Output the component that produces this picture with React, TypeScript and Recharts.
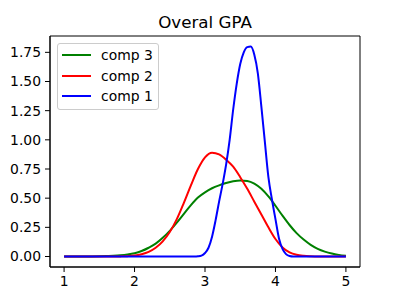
import { LineChart, Line, XAxis, YAxis, ReferenceArea, Customized } from 'recharts';

// x grid for the two broad components
const gpaX = [
  1.0, 1.1, 1.2, 1.3, 1.4, 1.5, 1.6, 1.7, 1.8, 1.9,
  2.0, 2.1, 2.2, 2.3, 2.4, 2.5, 2.6, 2.7, 2.8, 2.9,
  3.0, 3.1, 3.2, 3.3, 3.4, 3.5, 3.6, 3.7, 3.8, 3.9,
  4.0, 4.1, 4.2, 4.3, 4.4, 4.5, 4.6, 4.7, 4.8, 4.9, 5.0,
];

const comp3 = [
  0, 0, 0, 0.001, 0.001, 0.002, 0.004, 0.006, 0.01, 0.017,
  0.028, 0.047, 0.075, 0.11, 0.16, 0.22, 0.29, 0.365, 0.44, 0.505,
  0.55, 0.585, 0.61, 0.63, 0.645, 0.652, 0.648, 0.625, 0.58, 0.515,
  0.435, 0.35, 0.27, 0.2, 0.145, 0.1, 0.066, 0.042, 0.025, 0.014, 0.007,
];

const comp2 = [
  0, 0, 0, 0, 0, 0, 0, 0, 0.001, 0.003,
  0.008, 0.02, 0.04, 0.075, 0.13, 0.21, 0.32, 0.46, 0.61, 0.75,
  0.85, 0.89, 0.875, 0.83, 0.77, 0.68, 0.58, 0.47, 0.36, 0.25,
  0.15, 0.078, 0.036, 0.015, 0.006, 0.002, 0, 0, 0, 0, 0,
];

// narrow component, sampled finer
const comp1X = [
  1.0, 2.85, 2.9, 2.95, 3.0, 3.05, 3.1, 3.15, 3.2, 3.25, 3.3, 3.35, 3.4,
  3.45, 3.5, 3.55, 3.6, 3.65, 3.7, 3.75, 3.8, 3.85, 3.9, 3.95, 4.0,
  4.05, 4.1, 4.15, 4.2, 4.25, 5.0,
];

const comp1 = [
  0, 0, 0.002, 0.008, 0.03, 0.075, 0.17, 0.31, 0.47, 0.62, 0.79, 1.0, 1.26,
  1.48, 1.65, 1.75, 1.795, 1.8, 1.73, 1.57, 1.285, 0.98, 0.68, 0.49, 0.32,
  0.155, 0.065, 0.02, 0.004, 0, 0,
];

const xTicks = [1, 2, 3, 4, 5];
const yTicks = [0, 0.25, 0.5, 0.75, 1.0, 1.25, 1.5, 1.75];

const series = [
  { name: 'comp 3', color: '#008000', xs: gpaX, ys: comp3 },
  { name: 'comp 2', color: '#ff0000', xs: gpaX, ys: comp2 },
  { name: 'comp 1', color: '#0000ff', xs: comp1X, ys: comp1 },
];

const FONT = '"DejaVu Sans", sans-serif';

function LegendBox() {
  return (
    <div
      style={{
        position: 'absolute',
        left: 57,
        top: 43,
        width: 102,
        height: 67,
        border: '1px solid #cccccc',
        borderRadius: 3,
        background: 'rgba(255,255,255,0.8)',
        boxSizing: 'border-box',
        fontFamily: FONT,
        fontSize: 13.9,
        color: '#000',
      }}
    >
      {series.map((s, i) => (
        <div key={s.name} style={{ position: 'absolute', left: 0, top: i * 20.7 + 1, height: 20, width: 100 }}>
          <svg width={40} height={20} style={{ position: 'absolute', left: 0, top: 0 }}>
            <line x1={4} x2={33} y1={10} y2={10} stroke={s.color} strokeWidth={2} />
          </svg>
          <span style={{ position: 'absolute', left: 43, top: 1, lineHeight: '18px', whiteSpace: 'nowrap' }}>{s.name}</span>
        </div>
      ))}
    </div>
  );
}

export default function App() {
  return (
    <div style={{ position: 'absolute', left: 0, top: 0, width: 400, height: 300, background: '#fff' }}>
      <LineChart width={400} height={300} margin={{ top: 36, right: 40, bottom: 0, left: 0 }}>
        <XAxis
          type="number"
          dataKey="x"
          domain={[0.8, 5.2]}
          ticks={xTicks}
          interval={0}
          allowDataOverflow
          height={33}
          tickSize={5}
          tickMargin={4}
          stroke="#000"
          tick={{ fill: '#000', fontSize: 13.9, fontFamily: FONT }}
        />
        <YAxis
          type="number"
          domain={[-0.09, 1.89]}
          ticks={yTicks}
          interval={0}
          allowDataOverflow
          width={50}
          tickSize={5}
          tickMargin={4}
          stroke="#000"
          tickFormatter={(v: number) => v.toFixed(2)}
          tick={{ fill: '#000', fontSize: 13.9, fontFamily: FONT }}
        />
        <ReferenceArea x1={0.8} x2={5.2} y1={-0.09} y2={1.89} fill="none" stroke="#000" strokeWidth={1} ifOverflow="visible" />
        {series.map((s) => (
          <Line
            key={s.name}
            name={s.name}
            data={s.xs.map((x, i) => ({ x, y: s.ys[i] }))}
            dataKey="y"
            type="monotone"
            stroke={s.color}
            strokeWidth={2}
            dot={false}
            activeDot={false}
            isAnimationActive={false}
          />
        ))}
        <Customized
          component={() => (
            <text x={205} y={28} textAnchor="middle" fontSize={16.7} fontFamily={FONT} fill="#000">
              Overal GPA
            </text>
          )}
        />
      </LineChart>
      <LegendBox />
    </div>
  );
}
